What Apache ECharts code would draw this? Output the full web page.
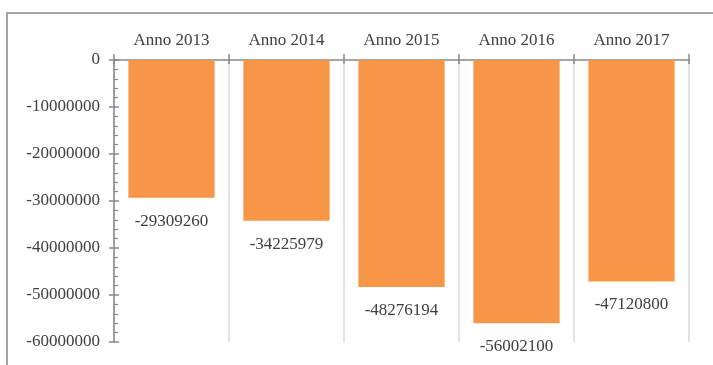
<!DOCTYPE html>
<html>
<head>
<meta charset="utf-8">
<style>
  html, body { margin: 0; padding: 0; background: #fff; }
  #chart { width: 713px; height: 365px; }
</style>
<script src="https://cdn.jsdelivr.net/npm/echarts@6/dist/echarts.min.js"></script>
</head>
<body>
<div id="chart"></div>
<script>
// Annual totals per year
const categories = ['Anno 2013', 'Anno 2014', 'Anno 2015', 'Anno 2016', 'Anno 2017'];
const values = [-29309260, -34225979, -48276194, -56002100, -47120800];
const yMin = -60000000;
const yMax = 0;
const yStep = 10000000;

const axisGray = '#898989';
const textGray = '#404040';
const fontFamily = '"Liberation Serif", "Times New Roman", serif';

const chart = echarts.init(document.getElementById('chart'), null, { renderer: 'canvas' });

chart.setOption({
  animation: false,
  backgroundColor: '#ffffff',
  graphic: [{
    type: 'rect',
    shape: { x: 7, y: 13, width: 800, height: 400 },
    style: { fill: 'none', stroke: axisGray, lineWidth: 1.5 },
    silent: true
  }],
  grid: { left: 114, top: 60, right: 24, bottom: 23, containLabel: false },
  xAxis: [{
    type: 'category',
    position: 'top',
    data: categories,
    axisLine: { show: true, lineStyle: { color: axisGray, width: 1.5 } },
    axisTick: { show: true, inside: false, length: 6, lineStyle: { color: axisGray, width: 1.5 } },
    axisLabel: { color: textGray, fontFamily: fontFamily, fontSize: 17, margin: 11 },
    splitLine: { show: true, lineStyle: { color: '#d9d9d9', width: 1.5 } }
  }, {
    // inner half of the crossing category ticks
    type: 'category',
    position: 'top',
    data: categories,
    axisLine: { show: false },
    axisTick: { show: true, inside: true, length: 4, lineStyle: { color: axisGray, width: 1.5 } },
    axisLabel: { show: false },
    splitLine: { show: false }
  }],
  yAxis: [{
    type: 'value',
    position: 'left',
    min: yMin,
    max: yMax,
    interval: yStep,
    axisLine: { show: true, lineStyle: { color: axisGray, width: 1.5 } },
    axisTick: { show: true, inside: true, length: 5, lineStyle: { color: axisGray, width: 1.5 } },
    minorTick: { show: true, splitNumber: 5, length: 4, lineStyle: { color: axisGray, width: 1.2 } },
    axisLabel: {
      color: textGray,
      fontFamily: fontFamily,
      fontSize: 17,
      margin: 14,
      formatter: function (v) { return String(v); }
    },
    splitLine: { show: false }
  }, {
    // outer half of the crossing value ticks
    type: 'value',
    position: 'left',
    min: yMin,
    max: yMax,
    interval: yStep,
    axisLine: { show: false },
    axisTick: { show: true, inside: false, length: 5, lineStyle: { color: axisGray, width: 1.5 } },
    axisLabel: { show: false },
    splitLine: { show: false }
  }],
  series: [{
    type: 'bar',
    xAxisIndex: 0,
    yAxisIndex: 0,
    data: values,
    barCategoryGap: '25%',
    itemStyle: { color: '#F79646' },
    label: {
      show: true,
      position: 'bottom',
      distance: 15,
      color: textGray,
      fontFamily: fontFamily,
      fontSize: 17
    }
  }]
});
</script>
</body>
</html>
